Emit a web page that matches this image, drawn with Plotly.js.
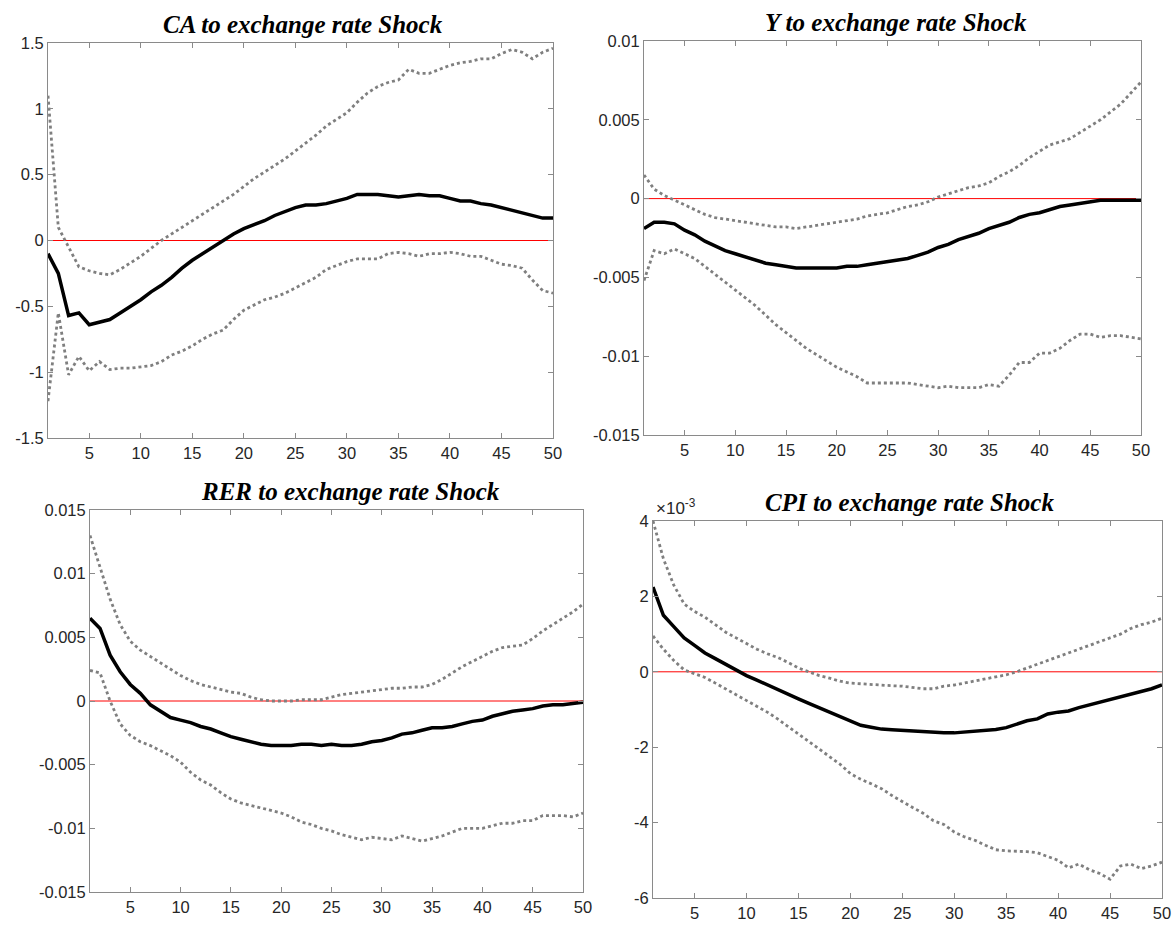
<!DOCTYPE html>
<html>
<head>
<meta charset="utf-8">
<script src="https://cdn.plot.ly/plotly-3.0.1.min.js"></script>
<style>html,body{margin:0;padding:0;background:#fff;}#chart{width:1175px;height:927px;}</style>
</head>
<body>
<div id="chart"></div>
<script>
// Horizon (periods 1..50)
const periods = Array.from({length: 50}, (_, i) => i + 1);
const xTicks = [5, 10, 15, 20, 25, 30, 35, 40, 45, 50];

const titles = ["CA to exchange rate Shock", "Y to exchange rate Shock", "RER to exchange rate Shock", "CPI to exchange rate Shock"];

// CA response
const caMid = [-0.10,-0.25,-0.57,-0.55,-0.64,-0.62,-0.60,-0.55,-0.50,-0.45,-0.39,-0.34,-0.28,-0.21,-0.15,-0.10,-0.05,0.00,0.05,0.09,0.12,0.15,0.19,0.22,0.25,0.27,0.27,0.28,0.30,0.32,0.35,0.35,0.35,0.34,0.33,0.34,0.35,0.34,0.34,0.32,0.30,0.30,0.28,0.27,0.25,0.23,0.21,0.19,0.17,0.17];
const caUp = [1.10,0.10,-0.05,-0.20,-0.23,-0.25,-0.26,-0.22,-0.17,-0.12,-0.06,0.00,0.05,0.10,0.15,0.20,0.25,0.30,0.35,0.41,0.47,0.52,0.57,0.62,0.68,0.74,0.80,0.87,0.92,0.97,1.05,1.12,1.17,1.20,1.22,1.30,1.27,1.27,1.30,1.33,1.35,1.36,1.38,1.38,1.42,1.45,1.43,1.38,1.43,1.46];
const caLo = [-1.22,-0.55,-1.02,-0.88,-0.99,-0.92,-0.98,-0.97,-0.97,-0.96,-0.95,-0.92,-0.87,-0.84,-0.80,-0.75,-0.71,-0.68,-0.60,-0.53,-0.49,-0.45,-0.43,-0.40,-0.36,-0.32,-0.28,-0.22,-0.19,-0.16,-0.14,-0.14,-0.14,-0.10,-0.09,-0.10,-0.12,-0.10,-0.10,-0.09,-0.10,-0.12,-0.12,-0.15,-0.18,-0.19,-0.21,-0.30,-0.38,-0.40];

// Y response
const yMid = [-0.0019,-0.0015,-0.0015,-0.0016,-0.0020,-0.0023,-0.0027,-0.0030,-0.0033,-0.0035,-0.0037,-0.0039,-0.0041,-0.0042,-0.0043,-0.0044,-0.0044,-0.0044,-0.0044,-0.0044,-0.0043,-0.0043,-0.0042,-0.0041,-0.0040,-0.0039,-0.0038,-0.0036,-0.0034,-0.0031,-0.0029,-0.0026,-0.0024,-0.0022,-0.0019,-0.0017,-0.0015,-0.0012,-0.0010,-0.0009,-0.0007,-0.0005,-0.0004,-0.0003,-0.0002,-0.0001,-0.0001,-0.0001,-0.0001,-0.0001];
const yUp = [0.0015,0.0006,0.0002,-0.0001,-0.0004,-0.0007,-0.0010,-0.0012,-0.0013,-0.0014,-0.0015,-0.0016,-0.0017,-0.0018,-0.0018,-0.0019,-0.0018,-0.0017,-0.0016,-0.0015,-0.0014,-0.0013,-0.0011,-0.0010,-0.0009,-0.0007,-0.0005,-0.0004,-0.0002,0.0001,0.0003,0.0005,0.0007,0.0008,0.0010,0.0014,0.0017,0.0021,0.0026,0.0030,0.0034,0.0036,0.0038,0.0042,0.0046,0.0050,0.0055,0.0060,0.0067,0.0074];
const yLo = [-0.0052,-0.0033,-0.0035,-0.0032,-0.0035,-0.0038,-0.0043,-0.0048,-0.0053,-0.0058,-0.0063,-0.0068,-0.0074,-0.0080,-0.0085,-0.0090,-0.0095,-0.0099,-0.0103,-0.0107,-0.0110,-0.0113,-0.0117,-0.0117,-0.0117,-0.0117,-0.0117,-0.0118,-0.0119,-0.0120,-0.0119,-0.0120,-0.0120,-0.0120,-0.0118,-0.0119,-0.0112,-0.0104,-0.0104,-0.0098,-0.0098,-0.0095,-0.0090,-0.0086,-0.0086,-0.0088,-0.0087,-0.0087,-0.0088,-0.0089];

// RER response
const rerMid = [0.0065,0.0057,0.0036,0.0023,0.0013,0.0006,-0.0003,-0.0008,-0.0013,-0.0015,-0.0017,-0.0020,-0.0022,-0.0025,-0.0028,-0.0030,-0.0032,-0.0034,-0.0035,-0.0035,-0.0035,-0.0034,-0.0034,-0.0035,-0.0034,-0.0035,-0.0035,-0.0034,-0.0032,-0.0031,-0.0029,-0.0026,-0.0025,-0.0023,-0.0021,-0.0021,-0.0020,-0.0018,-0.0016,-0.0015,-0.0012,-0.0010,-0.0008,-0.0007,-0.0006,-0.0004,-0.0003,-0.0003,-0.0002,-0.0001];
const rerUp = [0.0130,0.0105,0.0080,0.0060,0.0047,0.0040,0.0035,0.0030,0.0025,0.0020,0.0016,0.0013,0.0011,0.0009,0.0007,0.0006,0.0003,0.0001,0.0000,0.0000,0.0000,0.0001,0.0001,0.0001,0.0003,0.0005,0.0006,0.0007,0.0008,0.0009,0.0010,0.0010,0.0011,0.0011,0.0013,0.0017,0.0022,0.0027,0.0031,0.0035,0.0039,0.0042,0.0043,0.0044,0.0049,0.0055,0.0060,0.0065,0.0070,0.0076];
const rerLo = [0.0024,0.0022,0.0000,-0.0018,-0.0027,-0.0032,-0.0035,-0.0039,-0.0043,-0.0048,-0.0056,-0.0062,-0.0066,-0.0072,-0.0077,-0.0080,-0.0082,-0.0084,-0.0086,-0.0088,-0.0091,-0.0095,-0.0097,-0.0100,-0.0102,-0.0105,-0.0107,-0.0109,-0.0107,-0.0108,-0.0109,-0.0106,-0.0108,-0.0110,-0.0108,-0.0106,-0.0103,-0.0100,-0.0100,-0.0100,-0.0098,-0.0096,-0.0096,-0.0094,-0.0094,-0.0090,-0.0090,-0.0090,-0.0091,-0.0088];

// CPI response (in units of 1e-3)
const cpiMid = [2.25,1.50,1.20,0.90,0.70,0.50,0.35,0.20,0.05,-0.10,-0.22,-0.35,-0.48,-0.60,-0.72,-0.84,-0.96,-1.07,-1.18,-1.30,-1.42,-1.47,-1.52,-1.54,-1.56,-1.58,-1.60,-1.62,-1.62,-1.62,-1.60,-1.57,-1.55,-1.53,-1.48,-1.38,-1.30,-1.25,-1.12,-1.07,-1.04,-0.95,-0.88,-0.80,-0.74,-0.67,-0.60,-0.52,-0.45,-0.35];
const cpiUp = [4.00,3.00,2.30,1.80,1.60,1.45,1.25,1.05,0.90,0.75,0.60,0.48,0.38,0.25,0.10,0.00,-0.10,-0.17,-0.25,-0.30,-0.32,-0.35,-0.37,-0.37,-0.38,-0.42,-0.45,-0.45,-0.38,-0.35,-0.30,-0.25,-0.18,-0.13,-0.08,0.00,0.10,0.20,0.30,0.40,0.50,0.60,0.70,0.80,0.90,1.00,1.15,1.25,1.32,1.42];
const cpiLo = [0.95,0.60,0.30,0.05,-0.05,-0.15,-0.30,-0.45,-0.60,-0.75,-0.90,-1.07,-1.25,-1.45,-1.65,-1.85,-2.05,-2.25,-2.45,-2.70,-2.85,-2.97,-3.10,-3.28,-3.45,-3.60,-3.75,-3.95,-4.05,-4.25,-4.38,-4.47,-4.60,-4.72,-4.75,-4.75,-4.77,-4.80,-4.90,-5.00,-5.20,-5.10,-5.25,-5.35,-5.50,-5.15,-5.10,-5.22,-5.15,-5.05];

const zeroLine = [0, 0];
const zeroX = [1, 50];

const yTickVals = [
  [1.5, 1, 0.5, 0, -0.5, -1, -1.5],
  [0.01, 0.005, 0, -0.005, -0.01, -0.015],
  [0.015, 0.01, 0.005, 0, -0.005, -0.01, -0.015],
  [4, 2, 0, -2, -4, -6]
];
const yTickText = [
  ["1.5", "1", "0.5", "0", "-0.5", "-1", "-1.5"],
  ["0.01", "0.005", "0", "-0.005", "-0.01", "-0.015"],
  ["0.015", "0.01", "0.005", "0", "-0.005", "-0.01", "-0.015"],
  ["4", "2", "0", "-2", "-4", "-6"]
];
const yRanges = [[-1.5, 1.5], [-0.015, 0.01], [-0.015, 0.015], [-6, 4]];

const series = [
  [caMid, caUp, caLo],
  [yMid, yUp, yLo],
  [rerMid, rerUp, rerLo],
  [cpiMid, cpiUp, cpiLo]
];

// layout geometry (pixels) of each panel
const W = 1175, H = 927;
const boxes = [
  {x0: 48, x1: 553, y0: 43, y1: 438, tdx: 2},
  {x0: 644, x1: 1141, y0: 41, y1: 435, tdx: 3},
  {x0: 90, x1: 583, y0: 510, y1: 892, tdx: 14},
  {x0: 653, x1: 1162, y0: 521, y1: 898, tdx: 2}
];

const traces = [];
const layout = {
  width: W, height: H,
  margin: {l: 0, r: 0, t: 0, b: 0},
  paper_bgcolor: "#ffffff",
  plot_bgcolor: "#ffffff",
  showlegend: false,
  annotations: []
};

const axColor = "#8a8a8a";
const tickFont = {family: "Liberation Sans, Arial, sans-serif", size: 16.5, color: "#262626"};

series.forEach((s, i) => {
  const n = i + 1;
  const xa = n === 1 ? "x" : "x" + n;
  const ya = n === 1 ? "y" : "y" + n;
  const b = boxes[i];
  // zero line
  traces.push({x: zeroX, y: zeroLine, xaxis: xa, yaxis: ya, mode: "lines",
    line: {color: "#ff0000", width: 1}, hoverinfo: "skip"});
  // bands
  traces.push({x: periods, y: s[1], xaxis: xa, yaxis: ya, mode: "lines",
    line: {color: "#7f7f7f", width: 2.8, dash: "dot"}});
  traces.push({x: periods, y: s[2], xaxis: xa, yaxis: ya, mode: "lines",
    line: {color: "#7f7f7f", width: 2.8, dash: "dot"}});
  // median
  traces.push({x: periods, y: s[0], xaxis: xa, yaxis: ya, mode: "lines",
    line: {color: "#000000", width: 3.5}});

  const xKey = n === 1 ? "xaxis" : "xaxis" + n;
  const yKey = n === 1 ? "yaxis" : "yaxis" + n;
  layout[xKey] = {
    domain: [b.x0 / W, b.x1 / W],
    anchor: ya,
    range: [1, 50],
    tickvals: xTicks,
    ticktext: xTicks.map(String),
    ticks: "inside", ticklen: 5, tickcolor: axColor, tickwidth: 1,
    showline: true, linecolor: axColor, linewidth: 1, mirror: "ticks",
    showgrid: false, zeroline: false,
    tickfont: tickFont
  };
  layout[yKey] = {
    domain: [1 - b.y1 / H, 1 - b.y0 / H],
    anchor: xa,
    range: yRanges[i],
    tickvals: yTickVals[i],
    ticktext: yTickText[i],
    ticks: "inside", ticklen: 5, tickcolor: axColor, tickwidth: 1,
    showline: true, linecolor: axColor, linewidth: 1, mirror: "ticks",
    showgrid: false, zeroline: false,
    tickfont: tickFont
  };
  layout.annotations.push({
    text: "<b><i>" + titles[i] + "</i></b>",
    xref: "paper", yref: "paper",
    x: ((b.x0 + b.x1) / 2 + b.tdx) / W,
    y: 1 - (b.y0 - 3) / H,
    xanchor: "center", yanchor: "bottom",
    showarrow: false,
    font: {family: "Liberation Serif, Times New Roman, serif", size: 25, color: "#000000"}
  });
});

// exponent label on CPI panel
layout.annotations.push({
  text: "\u00d710<sup>-3</sup>",
  xref: "paper", yref: "paper",
  x: (boxes[3].x0 + 1) / W, y: 1 - (boxes[3].y0 - 1) / H,
  xanchor: "left", yanchor: "bottom", showarrow: false,
  font: {family: "Liberation Sans, Arial, sans-serif", size: 17, color: "#262626"}
});

Plotly.newPlot("chart", traces, layout, {staticPlot: true, displayModeBar: false});
</script>
</body>
</html>
